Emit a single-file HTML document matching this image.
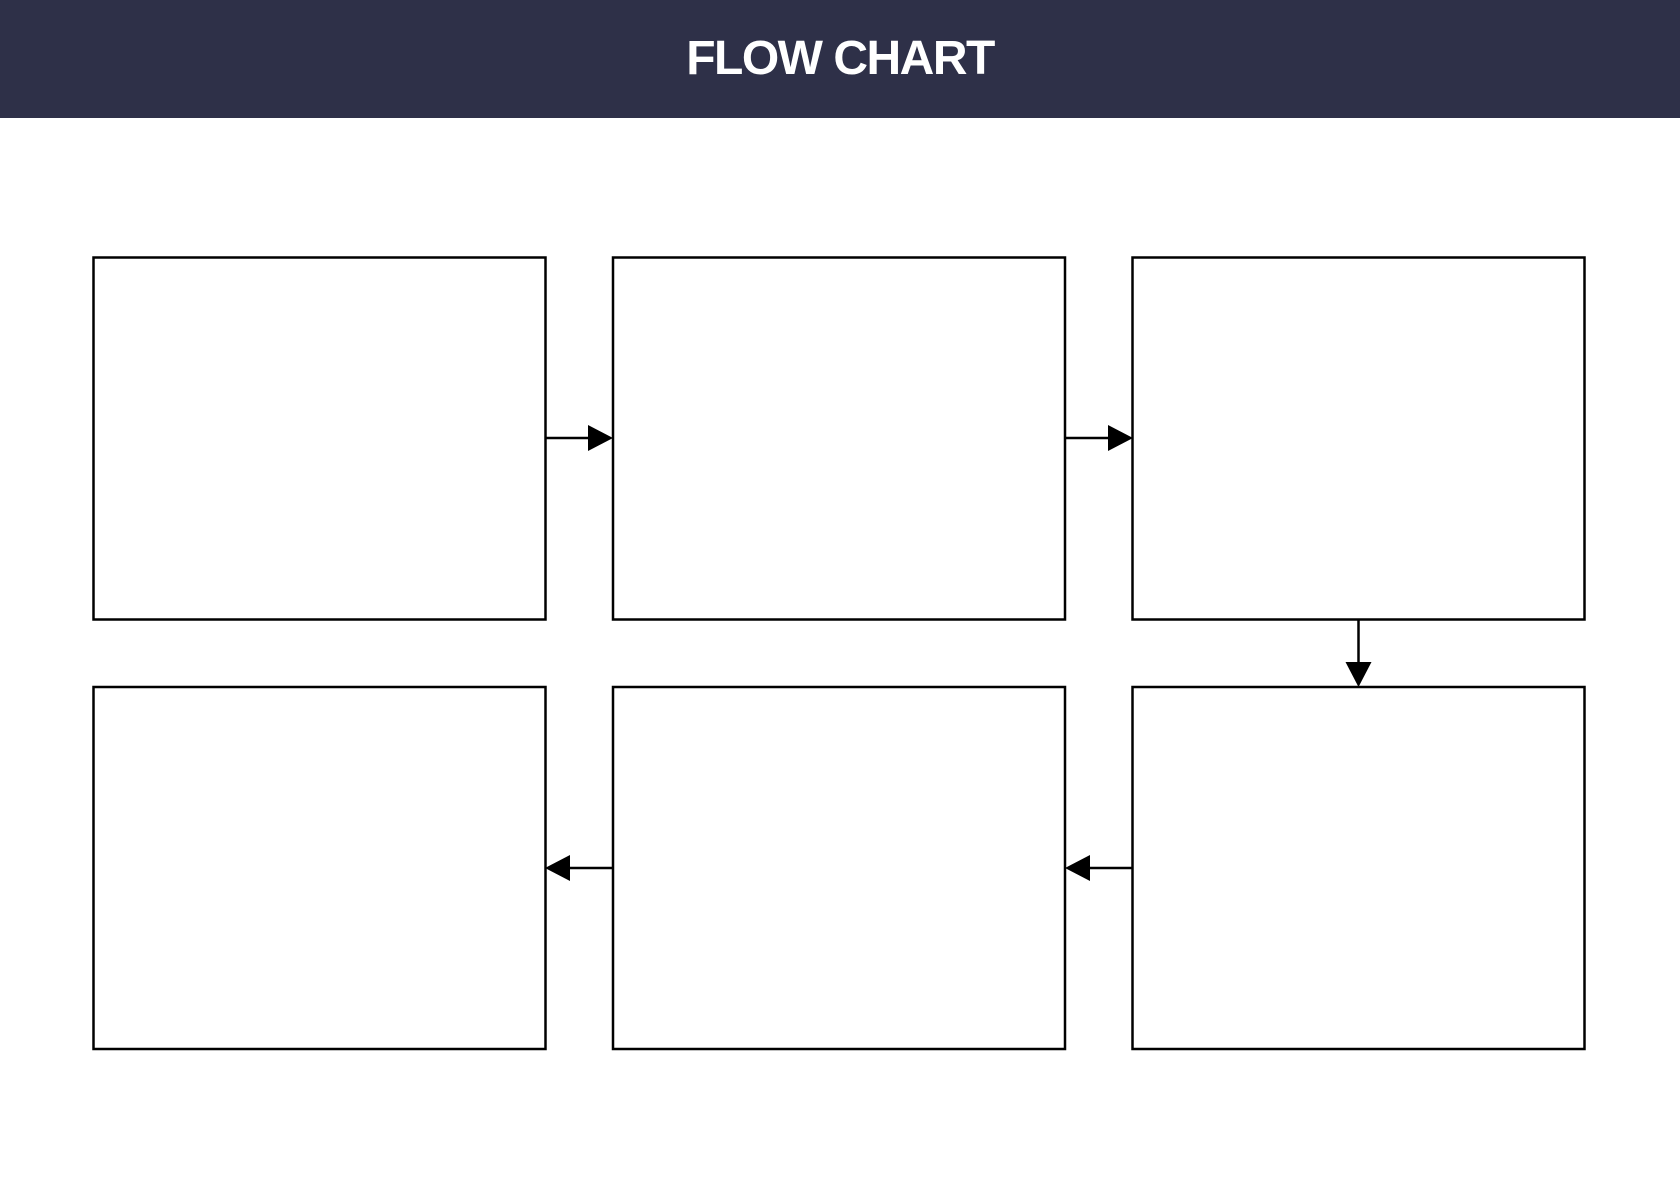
<!DOCTYPE html>
<html><head><meta charset="utf-8"><style>
html,body{margin:0;padding:0;width:1680px;height:1188px;background:#fff;overflow:hidden}
.header{position:absolute;left:0;top:0;width:1680px;height:118px;background:#2e3048}
.title{position:absolute;left:0;top:0;width:1680px;height:118px;line-height:118px;text-align:center;color:#fff;font-family:"Liberation Sans",sans-serif;font-weight:bold;font-size:48px;letter-spacing:-1.5px}
svg{position:absolute;left:0;top:0}
</style></head><body>
<div class="header"><div class="title">FLOW CHART</div></div>
<svg width="1680" height="1188">
<g fill="#fff" stroke="#000" stroke-width="2.5">
<rect x="93.5" y="257.5" width="452" height="362"/>
<rect x="613" y="257.5" width="452" height="362"/>
<rect x="1132.5" y="257.5" width="452" height="362"/>
<rect x="1132.5" y="687" width="452" height="362"/>
<rect x="613" y="687" width="452" height="362"/>
<rect x="93.5" y="687" width="452" height="362"/>
</g>
<g stroke="#000" stroke-width="2.5">
<line x1="546" y1="438" x2="590" y2="438"/>
<path d="M588,425 L613,438 L588,451 Z" fill="#000" stroke="none"/>
<line x1="1066" y1="438" x2="1110" y2="438"/>
<path d="M1108,425 L1133,438 L1108,451 Z" fill="#000" stroke="none"/>
<line x1="1358.5" y1="620" x2="1358.5" y2="664"/>
<path d="M1345.5,662 L1358.5,687 L1371.5,662 Z" fill="#000" stroke="none"/>
<line x1="1132" y1="868" x2="1088" y2="868"/>
<path d="M1090,855 L1065,868 L1090,881 Z" fill="#000" stroke="none"/>
<line x1="612" y1="868" x2="568" y2="868"/>
<path d="M570,855 L545,868 L570,881 Z" fill="#000" stroke="none"/>
</g>
</svg>
</body></html>
